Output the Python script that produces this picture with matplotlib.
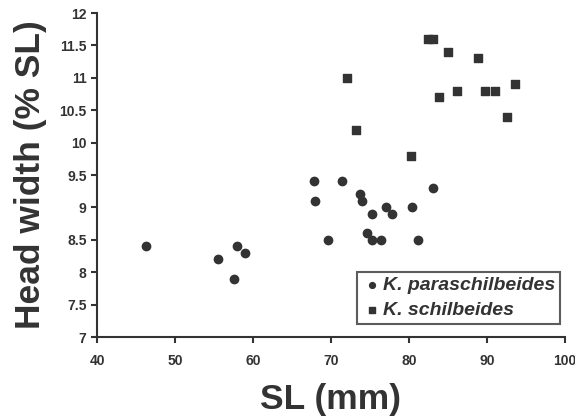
import matplotlib
matplotlib.use('Agg')
import matplotlib.pyplot as plt

# K. paraschilbeides
para_sl = [46.3, 55.5, 57.5, 58.0, 59.0, 67.8, 68.0, 69.6, 71.4, 73.7, 74.0, 74.6,
           75.2, 75.2, 76.4, 77.1, 77.8, 80.4, 81.2, 83.1]
para_hw = [8.4, 8.2, 7.9, 8.4, 8.3, 9.4, 9.1, 8.5, 9.4, 9.2, 9.1, 8.6,
           8.9, 8.5, 8.5, 9.0, 8.9, 9.0, 8.5, 9.3]
# K. schilbeides
schil_sl = [72.0, 73.2, 80.2, 82.5, 83.1, 83.8, 85.0, 86.1, 88.8, 89.7, 91.0, 92.6, 93.6]
schil_hw = [11.0, 10.2, 9.8, 11.6, 11.6, 10.7, 11.4, 10.8, 11.3, 10.8, 10.8, 10.4, 10.9]

xticks = [40, 50, 60, 70, 80, 90, 100]
yticks = [7, 7.5, 8, 8.5, 9, 9.5, 10, 10.5, 11, 11.5, 12]
yticklabels = ['7', '7.5', '8', '8.5', '9', '9.5', '10', '10.5', '11', '11.5', '12']

c = '#333333'
plt.rcParams['font.family'] = 'Liberation Sans'
plt.rcParams['font.weight'] = 'bold'

fig = plt.figure(figsize=(5.75, 4.17), dpi=100)
ax = fig.add_axes([0.1687, 0.1918, 0.8139, 0.777])
ax.scatter(para_sl, para_hw, s=36, marker='o', color=c, label='K. paraschilbeides', zorder=3)
ax.scatter(schil_sl, schil_hw, s=36, marker='s', color=c, label='K. schilbeides', zorder=3)

ax.set_xlim(40, 100)
ax.set_ylim(7, 12)
ax.set_xticks(xticks)
ax.set_yticks(yticks)
ax.set_yticklabels(yticklabels)
ax.spines['top'].set_visible(False)
ax.spines['right'].set_visible(False)
for s in ['left', 'bottom']:
    ax.spines[s].set_linewidth(1.5)
    ax.spines[s].set_color(c)
ax.tick_params(direction='out', length=4, width=1.5, color=c, labelsize=10,
               labelcolor=c)
ax.tick_params(axis='x', pad=8)

ax.set_xlabel('SL (mm)', fontsize=25.5, fontweight='bold', color=c, labelpad=11)
ax.set_ylabel('Head width (% SL)', fontsize=25.5, fontweight='bold', color=c, labelpad=9)

leg = ax.legend(loc='lower right', bbox_to_anchor=(0.99, 0.04), frameon=True,
                fancybox=False, edgecolor=c, prop={'style': 'italic', 'weight': 'bold', 'size': 14},
                handletextpad=0.1, handlelength=1.0, borderpad=0.25, labelspacing=0.38,
                labelcolor=c, markerscale=0.7, borderaxespad=0)
leg.get_frame().set_linewidth(1.5)

plt.savefig('out.png', dpi=100)
